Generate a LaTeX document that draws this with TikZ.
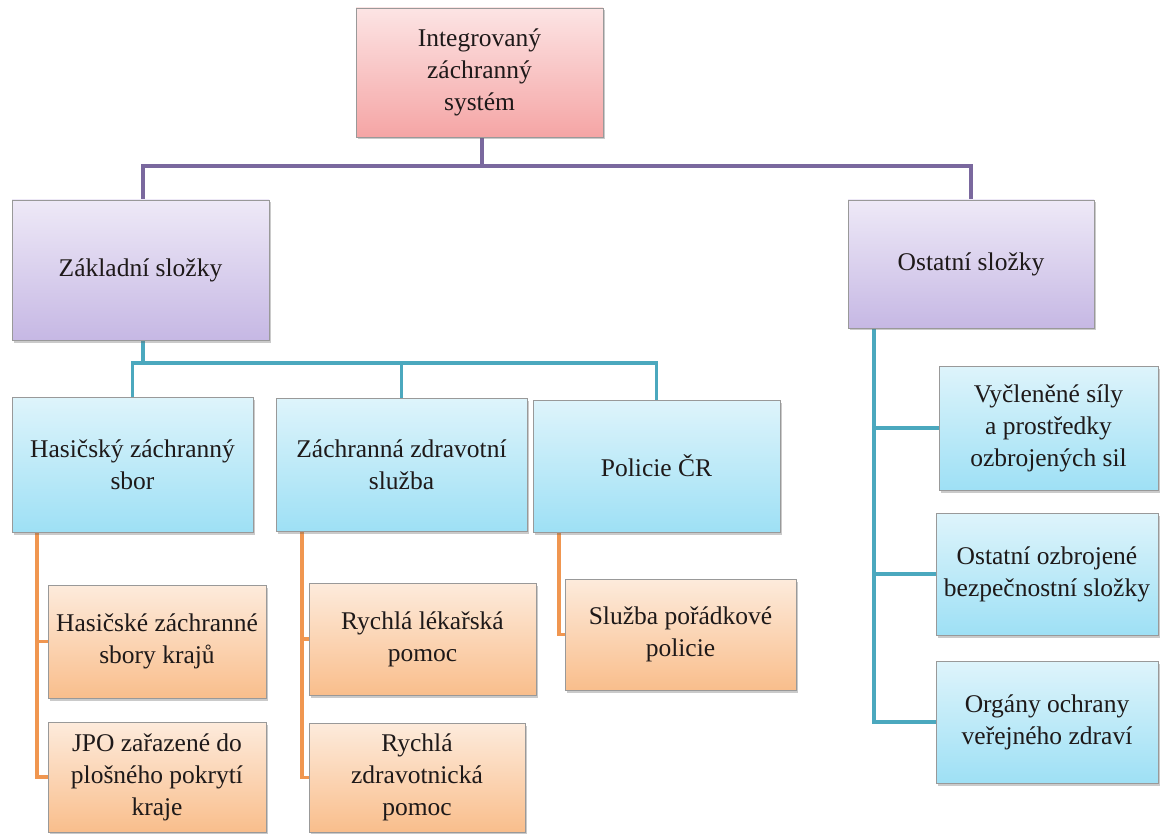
\documentclass[tikz,border=0pt]{standalone}
\usepackage{fontspec}
\setmainfont{Liberation Serif}
\usetikzlibrary{shadows,backgrounds}
\definecolor{pinkT}{RGB}{252,228,228}
\definecolor{pinkB}{RGB}{245,165,165}
\definecolor{purT}{RGB}{238,233,247}
\definecolor{purB}{RGB}{198,184,228}
\definecolor{bluT}{RGB}{222,244,251}
\definecolor{bluB}{RGB}{158,224,245}
\definecolor{orT}{RGB}{253,235,220}
\definecolor{orB}{RGB}{249,190,140}
\definecolor{purLine}{RGB}{122,104,158}
\definecolor{tealLine}{RGB}{75,168,190}
\definecolor{orLine}{RGB}{240,150,80}
\definecolor{txt}{RGB}{30,25,25}
\tikzset{
  boxbase/.style={draw=black!40, line width=0.8pt, inner sep=0pt, align=center,
    text=txt, font=\fontsize{25.5}{32}\selectfont,
    drop shadow={shadow xshift=2pt, shadow yshift=-2.5pt, opacity=0.35, fill=black!60}},
  pinkbox/.style={boxbase, top color=pinkT, bottom color=pinkB},
  purbox/.style={boxbase, top color=purT, bottom color=purB},
  blubox/.style={boxbase, top color=bluT, bottom color=bluB},
  orbox/.style={boxbase, top color=orT, bottom color=orB},
  purconn/.style={draw=purLine, line width=3.8pt},
  tealconn/.style={draw=tealLine, line width=3.8pt},
  orconn/.style={draw=orLine, line width=3.8pt},
}
\begin{document}
\begin{tikzpicture}[x=1pt, y=-1pt]
\useasboundingbox (0,0) rectangle (1162,834);
\coordinate (tb) at (482,166);
\coordinate (zb) at (143,363);
\node[pinkbox, minimum width=247pt, minimum height=129pt] (top) at (479.5,72.5) {Integrovaný\\záchranný\\systém};
\node[purbox, minimum width=257pt, minimum height=140pt] (zakl) at (140.5,270) {Základní složky};
\node[purbox, minimum width=246pt, minimum height=128pt] (ost) at (971,264) {Ostatní složky};
\node[blubox, minimum width=241pt, minimum height=135pt] (hzs) at (132.5,464.5) {Hasičský záchranný\\sbor};
\node[blubox, minimum width=251pt, minimum height=133pt] (zzs) at (401.5,464.5) {Záchranná zdravotní\\služba};
\node[blubox, minimum width=247pt, minimum height=132pt] (pol) at (656.5,466) {Policie ČR};
\node[orbox, minimum width=218pt, minimum height=113pt] (h1) at (157,641.5) {Hasičské záchranné\\sbory krajů};
\node[orbox, minimum width=218pt, minimum height=110pt] (h2) at (157,777) {JPO zařazené do\\plošného pokrytí\\kraje};
\node[orbox, minimum width=227pt, minimum height=112pt] (z1) at (422.5,639) {Rychlá lékařská\\pomoc};
\node[orbox, minimum width=216pt, minimum height=109pt] (z2) at (417,777.5) {Rychlá\\zdravotnická\\pomoc};
\node[orbox, minimum width=231pt, minimum height=111pt] (p1) at (680.5,634.5) {Služba pořádkové\\policie};
\node[blubox, minimum width=219pt, minimum height=124pt] (o1) at (1048.5,428) {Vyčleněné síly\\a prostředky\\ozbrojených sil};
\node[blubox, minimum width=222pt, minimum height=122pt] (o2) at (1047,574) {Ostatní ozbrojené\\bezpečnostní složky};
\node[blubox, minimum width=222pt, minimum height=122pt] (o3) at (1047,722) {Orgány ochrany\\veřejného zdraví};
\begin{scope}[on background layer]
\draw[purconn] (top.south -| tb) -- (tb) -| (zakl.north -| zb);
\draw[purconn] (tb) -| (ost.north);
\draw[tealconn] (zakl.south -| zb) -- (zb);
\draw[tealconn] (hzs.north) -- (hzs.north |- zb) -- (pol.north |- zb) -- (pol.north);
\draw[tealconn] (zzs.north |- zb) -- (zzs.north);
\coordinate (hv) at (37,0);
\draw[orconn] (hzs.south -| hv) |- (h2.west);
\draw[orconn] (h1.west -| hv) -- (h1.west);
\coordinate (zv) at (302,0);
\draw[orconn] (zzs.south -| zv) |- (z2.west);
\draw[orconn] (z1.west -| zv) -- (z1.west);
\coordinate (pv) at (559,0);
\draw[orconn] (pol.south -| pv) |- (p1.west);
\coordinate (ov) at (874,0);
\draw[tealconn] (ost.south -| ov) |- (o3.west);
\draw[tealconn] (o1.west -| ov) -- (o1.west);
\draw[tealconn] (o2.west -| ov) -- (o2.west);
\end{scope}
\end{tikzpicture}
\end{document}
